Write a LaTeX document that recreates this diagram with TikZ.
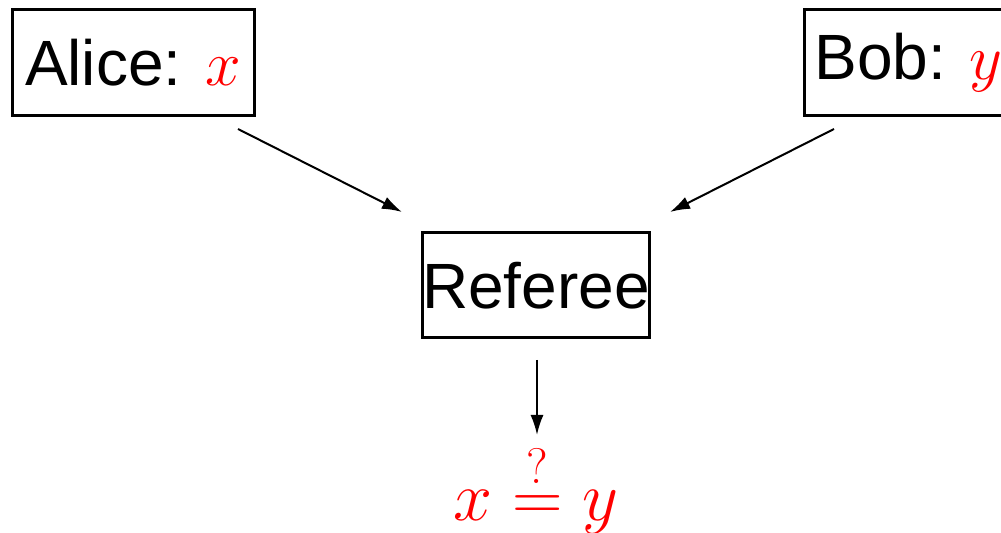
\RequirePackage{fix-cm}
\documentclass[tikz,border=0pt]{standalone}
\usepackage{fontspec}
\setsansfont{Liberation Sans}
\usetikzlibrary{arrows.meta}
\begin{document}
\begin{tikzpicture}[x=0.5pt,y=-0.5pt,
  box/.style={draw,line width=1.5pt,inner sep=0pt,minimum height=53pt,font=\sffamily\fontsize{32}{38}\selectfont},
  conn/.style={line width=1pt,-{Latex[length=10pt,width=6.5pt]}}]
\clip (0,0) rectangle (1001,533);
\useasboundingbox (0,0) rectangle (1001,533);
\node[box,minimum width=121pt] (alice) at (133,63) {Alice: \textcolor{red}{$x$}};
\node[box,anchor=west] (bob) at (803,63) {\hspace{5pt}Bob: \textcolor{red}{$y$}\hspace{12pt}};
\node[box,minimum width=113pt,minimum height=52.5pt] (ref) at (536,285.5) {Referee};
\node[anchor=base,text=red,inner sep=0pt,font=\fontsize{35}{42}\selectfont] (res) at (536,521) {$x \stackrel{\hbox{\fontsize{25}{25}\selectfont ?\rule[-5pt]{0pt}{0pt}}}{=} y$};
\coordinate (a1) at (238,129);
\coordinate (a2) at (402,212);
\coordinate (b1) at (834,129);
\coordinate (b2) at (670,212);
\coordinate (r1) at (537,360);
\coordinate (r2) at (537,435);
\draw[conn] (a1) -- (a2);
\draw[conn] (b1) -- (b2);
\draw[conn] (r1) -- (r2);
\end{tikzpicture}
\end{document}
